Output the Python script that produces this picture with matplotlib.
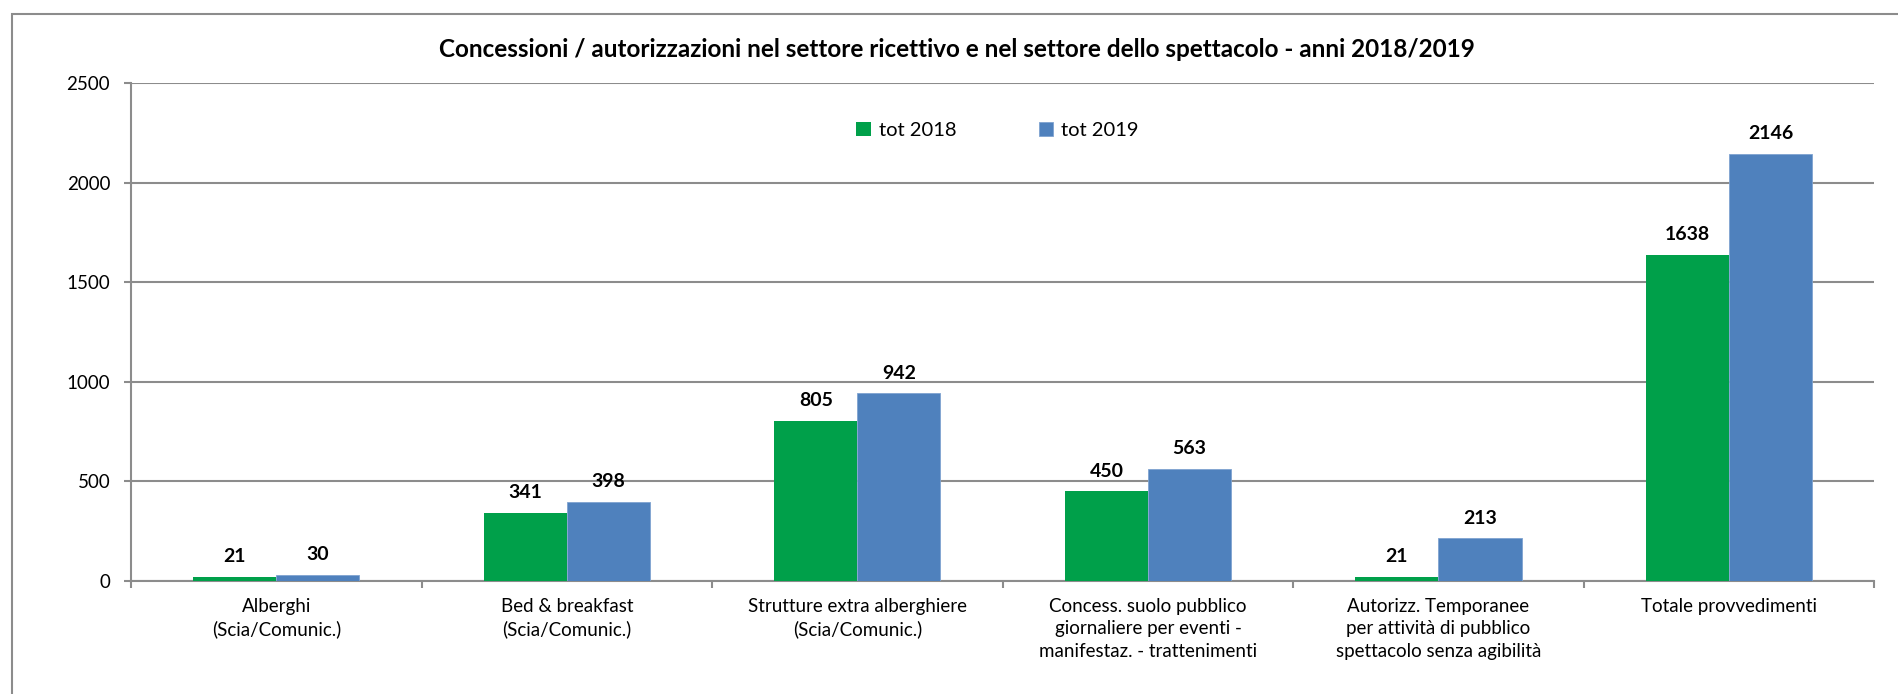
import numpy as np
import matplotlib
matplotlib.use('Agg')
import matplotlib.pyplot as plt
from matplotlib.patches import Rectangle

plt.rcParams['font.family'] = ['Lato', 'DejaVu Sans']

categories = ['Alberghi\n(Scia/Comunic.)',
              'Bed & breakfast\n(Scia/Comunic.)',
              'Strutture extra alberghiere\n(Scia/Comunic.)',
              'Concess. suolo pubblico\ngiornaliere per eventi -\nmanifestaz. - trattenimenti',
              'Autorizz. Temporanee\nper attività di pubblico\nspettacolo senza agibilità',
              'Totale provvedimenti']
tot_2018 = [21, 341, 805, 450, 21, 1638]
tot_2019 = [30, 398, 942, 563, 213, 2146]
yticks = [0, 500, 1000, 1500, 2000, 2500]
title = 'Concessioni / autorizzazioni nel settore ricettivo e nel settore dello spettacolo - anni 2018/2019'

green = '#00A04A'
blue = '#4F81BD'
grid_col = '#8C8C8C'

fig = plt.figure(figsize=(18.99, 6.94), dpi=100)
ax = fig.add_axes([0.069, 0.163, 0.918, 0.717])

# outer chart border (only left/top visible in the picture)
fig.patches.append(Rectangle((12 / 1899, -0.2), 1.2, 1.2 - 14 / 694,
                             transform=fig.transFigure, fill=False,
                             edgecolor='#8C8C8C', linewidth=1.5))

x = np.arange(len(categories))
w = 0.286
b1 = ax.bar(x - w / 2, tot_2018, w, color=green, label='tot 2018', zorder=3)
b2 = ax.bar(x + w / 2, tot_2019, w, color=blue, label='tot 2019', zorder=3,
            edgecolor='#7FA3D0', linewidth=0.6)

for bars, vals in [(b1, tot_2018), (b2, tot_2019)]:
    for r, v in zip(bars, vals):
        ax.annotate(str(v), (r.get_x() + r.get_width() / 2, v),
                    xytext=(0, 8.5), textcoords='offset points',
                    ha='center', va='bottom', fontsize=14, fontweight='bold')

ax.set_xlim(-0.5, len(categories) - 0.5)
ax.set_ylim(0, 2500)
ax.set_yticks(yticks)
ax.set_yticklabels([str(t) for t in yticks], fontsize=13.5)
ax.yaxis.grid(True, color=grid_col, linewidth=1.5, zorder=0)

ax.set_xticks(x)
ax.set_xticklabels(categories, fontsize=13.5, va='top', linespacing=1.4)
ax.tick_params(axis='x', length=0, pad=12)
ax.set_xticks(np.arange(len(categories) + 1) - 0.5, minor=True)
ax.tick_params(axis='x', which='minor', length=5, color=grid_col, width=1.5)
ax.tick_params(axis='y', length=5, color=grid_col, width=1.5, pad=10)

for s in ['top', 'right']:
    ax.spines[s].set_visible(False)
for s in ['left', 'bottom']:
    ax.spines[s].set_color(grid_col)
    ax.spines[s].set_linewidth(1.5)

leg = ax.legend(loc='center', bbox_to_anchor=(0.497, 0.906), ncol=2, frameon=False,
                fontsize=14.5, handlelength=0.7, handleheight=0.7,
                handletextpad=0.4, columnspacing=4.1)

fig.text(0.504, 0.928, title, ha='center', va='center', fontsize=17.5, fontweight='bold')

fig.savefig('out.png', dpi=100)
